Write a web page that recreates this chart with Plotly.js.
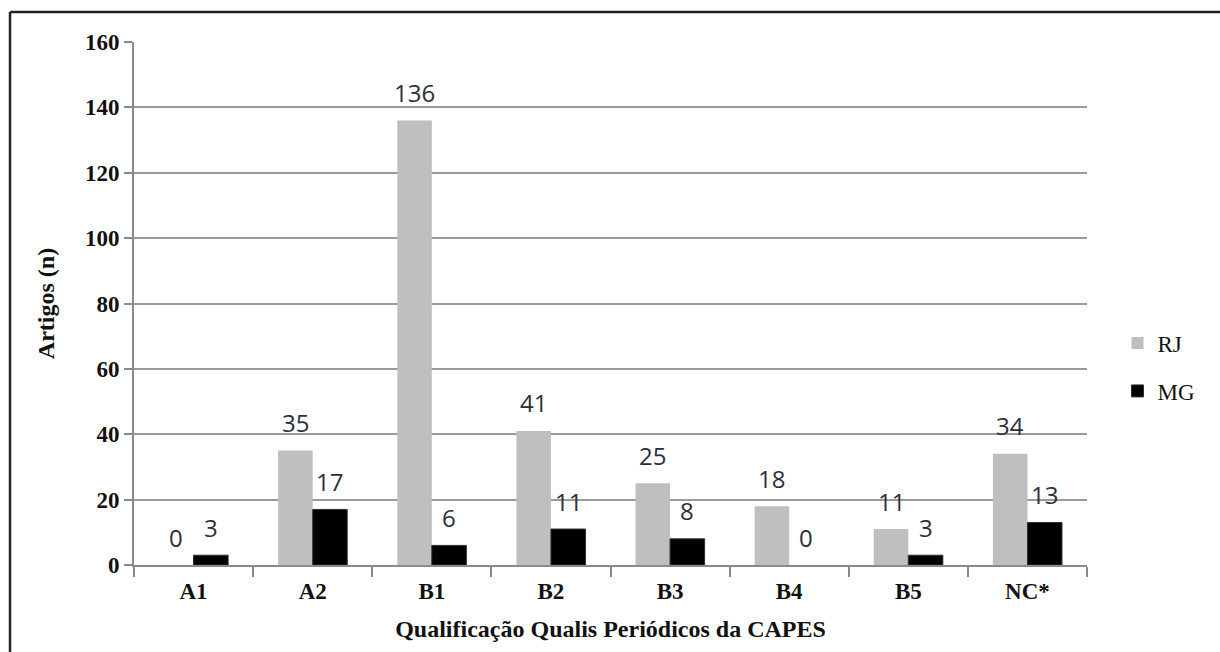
<!DOCTYPE html>
<html>
<head>
<meta charset="utf-8">
<script src="https://cdn.plot.ly/plotly-3.0.1.min.js"></script>
<style>html,body{margin:0;padding:0;background:#fff;}#chart{width:1220px;height:652px;}</style>
</head>
<body>
<div id="chart"></div>
<script>
const categories = ["A1","A2","B1","B2","B3","B4","B5","NC*"];
const rjValues = [0,35,136,41,25,18,11,34];
const mgValues = [3,17,6,11,8,0,3,13];
const seriesNames = ["RJ","MG"];
const yTicks = [0,20,40,60,80,100,120,140,160];

const serif = "Liberation Serif, Times New Roman, serif";
const traces = [
  {type:"bar", name:seriesNames[0], x:categories, y:rjValues, legendgroup:"a",
   marker:{color:"#bfbfbf", line:{color:"#bdbdbd", width:0}}, hoverinfo:"x+y"},
  {type:"bar", name:seriesNames[1], x:categories, y:mgValues, legendgroup:"b",
   marker:{color:"#000000", line:{color:"#303030", width:mgValues.map(function(v){return v?1:0;})}}, hoverinfo:"x+y"}
];

const annotations = [];
[rjValues, mgValues].forEach(function(vals, s){
  vals.forEach(function(v, i){
    annotations.push({x:categories[i], y:v, xref:"x", yref:"y", text:String(v),
      showarrow:false, xshift:(s===0?-17.3:17.3), yshift:28, yanchor:"middle",
      font:{family:"Open Sans, sans-serif", size:24, color:"#2b2f3a"}});
  });
});

const layout = {
  width:1220, height:652,
  margin:{l:134, r:133, t:42, b:87},
  paper_bgcolor:"#ffffff", plot_bgcolor:"#ffffff",
  barmode:"group", bargap:0.42, bargroupgap:0,
  showlegend:true,
  legend:{xref:"container", yref:"container", x:0.916, y:0.437, xanchor:"left", yanchor:"middle",
    traceorder:"grouped", tracegroupgap:15, font:{family:serif, size:23, color:"#111"}, bgcolor:"rgba(0,0,0,0)"},
  xaxis:{type:"category", tickson:"boundaries", ticks:"outside", ticklen:10, tickwidth:2, tickcolor:"#8a8a8a",
    showline:true, linecolor:"#8a8a8a", linewidth:2, showgrid:false, zeroline:false,
    tickfont:{family:serif, size:23, color:"#111", weight:"bold"}, ticklabelstandoff:4,
    title:{text:"<b>Qualificação Qualis Periódicos da CAPES</b>", font:{family:serif, size:24, color:"#111"}, standoff:18},
    automargin:false},
  yaxis:{range:[0,160], tickvals:yTicks, ticktext:yTicks.map(String), ticks:"outside", ticklen:8, tickwidth:2, tickcolor:"#8a8a8a",
    showline:true, linecolor:"#8a8a8a", linewidth:2, showgrid:true, gridcolor:"#9a9a9a", gridwidth:2, zeroline:false,
    tickfont:{family:serif, size:23, color:"#111", weight:"bold"},
    title:{text:"<b>Artigos (n)</b>", font:{family:serif, size:24, color:"#111"}, standoff:24},
    automargin:false},
  annotations:annotations,
  shapes:[
    {type:"line", xref:"paper", yref:"paper", x0:-0.1301, x1:1.2, y0:1.0574, y1:1.0574, line:{color:"#222", width:2.5}},
    {type:"line", xref:"paper", yref:"paper", x0:-0.1301, x1:-0.1301, y0:1.0574, y1:-0.3, line:{color:"#222", width:2.5}}
  ]
};

Plotly.newPlot("chart", traces, layout, {displayModeBar:false, staticPlot:true});
</script>
</body>
</html>
